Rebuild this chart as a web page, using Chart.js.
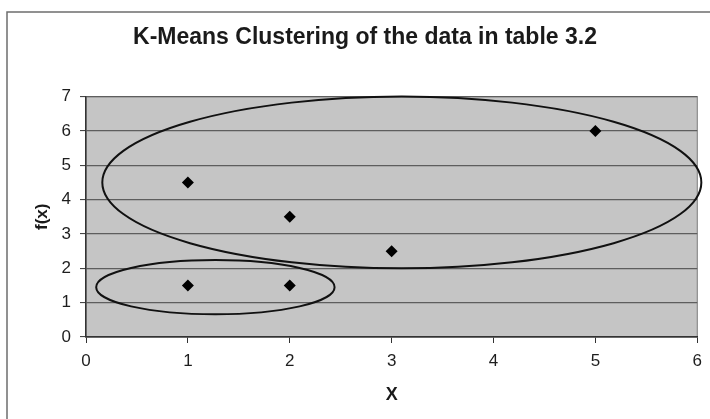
<!DOCTYPE html>
<html>
<head>
<meta charset="utf-8">
<script src="https://cdn.jsdelivr.net/npm/chart.js@4/dist/chart.umd.min.js"></script>
<style>
  html, body { margin: 0; padding: 0; background: #ffffff; }
  #wrap { width: 710px; height: 419px; }
</style>
</head>
<body>
<div id="wrap"><canvas id="kmeans" width="710" height="419"></canvas></div>
<script>
// points from table 3.2
const xValues = [1, 2, 1, 2, 3, 5];
const yValues = [1.5, 1.5, 4.5, 3.5, 2.5, 6];

// axis ranges
const xTicks = [0, 1, 2, 3, 4, 5, 6];
const yTicks = [0, 1, 2, 3, 4, 5, 6, 7];

// cluster outlines, in data units: [centre x, centre y, radius x, radius y]
const clusterBounds = [
  [3.1, 4.5, 2.94, 2.5],
  [1.27, 1.45, 1.17, 0.79]
];

const points = xValues.map((x, i) => ({ x: x, y: yValues[i] }));

const font = "'Liberation Sans', Arial, sans-serif";

// outer frame of the chart object
const framePlugin = {
  id: "frame",
  beforeDraw(chart) {
    const ctx = chart.ctx;
    ctx.save();
    ctx.strokeStyle = "#6e6e6e";
    ctx.lineWidth = 1.5;
    ctx.beginPath();
    ctx.moveTo(7, chart.height + 2);
    ctx.lineTo(7, 12);
    ctx.lineTo(chart.width + 2, 12);
    ctx.stroke();
    ctx.restore();
  }
};

// grey plot area
const plotAreaPlugin = {
  id: "plotArea",
  beforeDraw(chart) {
    const a = chart.chartArea;
    const ctx = chart.ctx;
    ctx.save();
    ctx.fillStyle = "#c5c5c5";
    ctx.fillRect(a.left, a.top, a.right - a.left, a.bottom - a.top);
    ctx.strokeStyle = "#7a7a7a";
    ctx.lineWidth = 1;
    ctx.strokeRect(a.left, a.top, a.right - a.left, a.bottom - a.top);
    ctx.restore();
  }
};

// ellipses round each cluster
const clusterPlugin = {
  id: "clusters",
  afterDatasetsDraw(chart) {
    const xs = chart.scales.x;
    const ys = chart.scales.y;
    const ctx = chart.ctx;
    ctx.save();
    ctx.strokeStyle = "#111111";
    ctx.lineWidth = 2;
    clusterBounds.forEach(([cx, cy, rx, ry]) => {
      const px = xs.getPixelForValue(cx);
      const py = ys.getPixelForValue(cy);
      const prx = Math.abs(xs.getPixelForValue(cx + rx) - px);
      const pry = Math.abs(ys.getPixelForValue(cy + ry) - py);
      ctx.beginPath();
      ctx.ellipse(px, py, prx, pry, 0, 0, Math.PI * 2);
      ctx.stroke();
    });
    ctx.restore();
  }
};

new Chart("kmeans", {
  type: "scatter",
  data: {
    datasets: [
      {
        data: points,
        pointStyle: "rectRot",
        pointRadius: 6,
        pointHoverRadius: 6,
        backgroundColor: "#000000",
        borderColor: "#000000",
        borderWidth: 0
      }
    ]
  },
  options: {
    responsive: false,
    animation: false,
    layout: { padding: { left: 32, right: 12, top: 0, bottom: 0 } },
    plugins: {
      legend: { display: false },
      tooltip: { enabled: false },
      title: {
        display: true,
        text: "K-Means Clustering of the data in table 3.2",
        color: "#1a1a1a",
        font: { family: font, size: 23, weight: "bold" },
        padding: { top: 24, bottom: 45 }
      }
    },
    scales: {
      x: {
        type: "linear",
        min: xTicks[0],
        max: xTicks[xTicks.length - 1],
        afterFit(scale) { scale.height = 82; },
        afterBuildTicks(scale) { scale.ticks = xTicks.map(v => ({ value: v })); },
        ticks: {
          color: "#1e1e1e",
          font: { family: font, size: 17 },
          padding: 8,
          maxRotation: 0
        },
        grid: {
          drawOnChartArea: false,
          drawTicks: true,
          tickLength: 6,
          tickColor: "#333333",
          tickWidth: 1
        },
        border: { display: true, color: "#333333", width: 1.5 },
        title: {
          display: true,
          text: "X",
          color: "#1a1a1a",
          font: { family: font, size: 18, weight: "bold" },
          padding: { top: 0, bottom: 13 }
        }
      },
      y: {
        type: "linear",
        min: yTicks[0],
        max: yTicks[yTicks.length - 1],
        afterFit(scale) { scale.width = 54; },
        afterBuildTicks(scale) { scale.ticks = yTicks.map(v => ({ value: v })); },
        ticks: {
          color: "#1e1e1e",
          font: { family: font, size: 17 },
          padding: 9
        },
        grid: {
          color: "#5e5e5e",
          lineWidth: 1.2,
          drawTicks: true,
          tickLength: 6,
          tickColor: "#333333",
          tickWidth: 1
        },
        border: { display: true, color: "#333333", width: 1.5 },
        title: {
          display: true,
          text: "f(x)",
          color: "#1a1a1a",
          font: { family: font, size: 17, weight: "bold" },
          padding: { top: 0, bottom: 0 }
        }
      }
    }
  },
  plugins: [framePlugin, plotAreaPlugin, clusterPlugin]
});
</script>
</body>
</html>
